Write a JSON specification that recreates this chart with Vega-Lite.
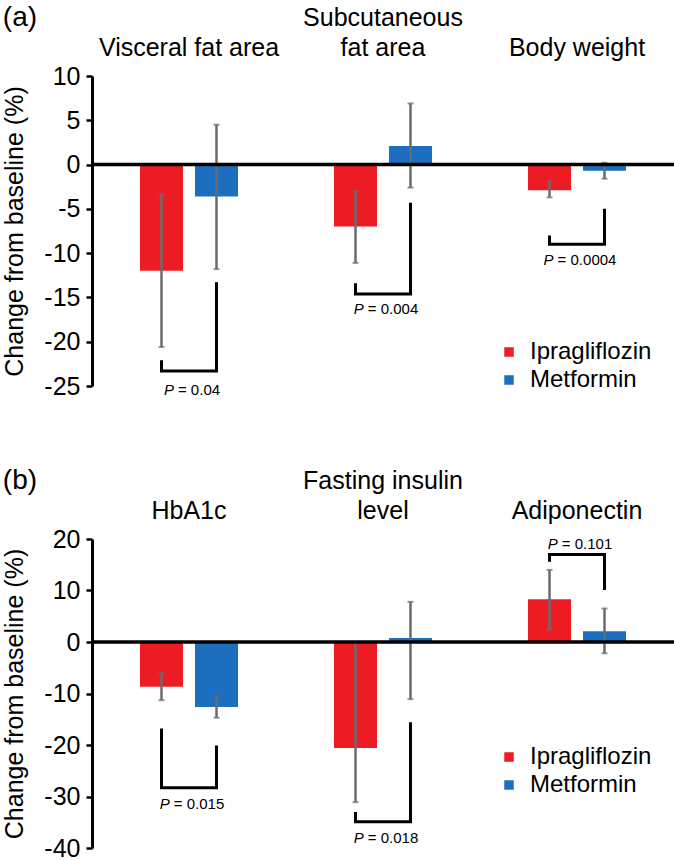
{
  "$schema": "https://vega.github.io/schema/vega-lite/v6.json",
  "padding": {"left": 2, "top": 4, "right": 0, "bottom": 0},
  "config": {
    "view": {"stroke": null},
    "font": "Liberation Sans",
    "axis": {"grid": false, "labelColor": "black", "titleColor": "black"}
  },
  "datasets": {
    "a_bars": [
      {"category": "Visceral fat area", "drug": "Ipragliflozin", "value": -12.0, "lo": -20.6, "hi": -3.4},
      {"category": "Visceral fat area", "drug": "Metformin", "value": -3.6, "lo": -11.8, "hi": 4.5},
      {"category": "Subcutaneous fat area", "drug": "Ipragliflozin", "value": -7.0, "lo": -11.1, "hi": -3.0},
      {"category": "Subcutaneous fat area", "drug": "Metformin", "value": 2.1, "lo": -2.6, "hi": 6.9},
      {"category": "Body weight", "drug": "Ipragliflozin", "value": -2.9, "lo": -3.7, "hi": -1.9},
      {"category": "Body weight", "drug": "Metformin", "value": -0.7, "lo": -1.6, "hi": 0.2}
    ],
    "a_br": [
      {"category": "Visceral fat area", "drug": "Ipragliflozin", "y": -22.1, "k": 1},
      {"category": "Visceral fat area", "drug": "Ipragliflozin", "y": -23.3, "k": 2},
      {"category": "Visceral fat area", "drug": "Metformin", "y": -23.3, "k": 3},
      {"category": "Visceral fat area", "drug": "Metformin", "y": -13.3, "k": 4},
      {"category": "Subcutaneous fat area", "drug": "Ipragliflozin", "y": -13.4, "k": 1},
      {"category": "Subcutaneous fat area", "drug": "Ipragliflozin", "y": -14.6, "k": 2},
      {"category": "Subcutaneous fat area", "drug": "Metformin", "y": -14.6, "k": 3},
      {"category": "Subcutaneous fat area", "drug": "Metformin", "y": -4.3, "k": 4},
      {"category": "Body weight", "drug": "Ipragliflozin", "y": -8.0, "k": 1},
      {"category": "Body weight", "drug": "Ipragliflozin", "y": -9.0, "k": 2},
      {"category": "Body weight", "drug": "Metformin", "y": -9.0, "k": 3},
      {"category": "Body weight", "drug": "Metformin", "y": -5.0, "k": 4}
    ],
    "a_p": [
      {"category": "Visceral fat area", "num": "= 0.04", "y": -25.5},
      {"category": "Subcutaneous fat area", "num": "= 0.004", "y": -16.3},
      {"category": "Body weight", "num": "= 0.0004", "y": -10.8}
    ],
    "b_bars": [
      {"category": "HbA1c", "drug": "Ipragliflozin", "value": -8.7, "lo": -11.3, "hi": -6.0},
      {"category": "HbA1c", "drug": "Metformin", "value": -12.6, "lo": -14.7, "hi": -10.5},
      {"category": "Fasting insulin level", "drug": "Ipragliflozin", "value": -20.6, "lo": -31.1, "hi": 0},
      {"category": "Fasting insulin level", "drug": "Metformin", "value": 0.8, "lo": -11.1, "hi": 7.8},
      {"category": "Adiponectin", "drug": "Ipragliflozin", "value": 8.3, "lo": 2.4, "hi": 14.0},
      {"category": "Adiponectin", "drug": "Metformin", "value": 2.1, "lo": -2.2, "hi": 6.5}
    ],
    "b_br": [
      {"category": "HbA1c", "drug": "Ipragliflozin", "y": -16.8, "k": 1},
      {"category": "HbA1c", "drug": "Ipragliflozin", "y": -28.3, "k": 2},
      {"category": "HbA1c", "drug": "Metformin", "y": -28.3, "k": 3},
      {"category": "HbA1c", "drug": "Metformin", "y": -20.1, "k": 4},
      {"category": "Fasting insulin level", "drug": "Ipragliflozin", "y": -33.0, "k": 1},
      {"category": "Fasting insulin level", "drug": "Ipragliflozin", "y": -34.9, "k": 2},
      {"category": "Fasting insulin level", "drug": "Metformin", "y": -34.9, "k": 3},
      {"category": "Fasting insulin level", "drug": "Metformin", "y": -15.6, "k": 4},
      {"category": "Adiponectin", "drug": "Ipragliflozin", "y": 15.6, "k": 1},
      {"category": "Adiponectin", "drug": "Ipragliflozin", "y": 17.0, "k": 2},
      {"category": "Adiponectin", "drug": "Metformin", "y": 17.0, "k": 3},
      {"category": "Adiponectin", "drug": "Metformin", "y": 10.1, "k": 4}
    ],
    "b_p": [
      {"category": "HbA1c", "num": "= 0.015", "y": -31.5},
      {"category": "Fasting insulin level", "num": "= 0.018", "y": -38.1},
      {"category": "Adiponectin", "num": "= 0.101", "y": 19.0}
    ]
  },
  "spacing": 68,
  "resolve": {
    "scale": {"x": "independent", "y": "independent", "xOffset": "independent", "color": "independent"},
    "legend": {"color": "independent"}
  },
  "vconcat": [
    {
      "width": 582,
      "height": 310,
      "title": {"text": "(a)", "anchor": "start", "frame": "bounds", "fontSize": 28, "fontWeight": "normal", "offset": -27, "color": "black"},
      "layer": [
        {
          "data": {"name": "a_bars"},
          "mark": {"type": "bar"},
          "encoding": {
            "x": {"field": "category", "type": "nominal", "sort": ["Visceral fat area", "Subcutaneous fat area", "Body weight"],
              "scale": {"paddingInner": 0, "paddingOuter": 0},
              "axis": {"orient": "top", "title": null, "domain": false, "ticks": false, "labelAngle": 0, "labelFontSize": 25, "labelPadding": 46, "labelLineHeight": 30, "labelLimit": 0,
                "labelExpr": "datum.label == 'Subcutaneous fat area' ? ['Subcutaneous', 'fat area'] : ['', datum.label]"}},
            "xOffset": {"field": "drug", "type": "nominal", "sort": ["Ipragliflozin", "Metformin"], "scale": {"paddingInner": 0.218, "paddingOuter": 0.873}},
            "y": {"field": "value", "type": "quantitative", "title": "Change from baseline (%)",
              "scale": {"domain": [-25, 10], "nice": false, "zero": false},
              "axis": {"values": [-25, -20, -15, -10, -5, 0, 5, 10], "labelExpr": "'' + datum.value", "labelFontSize": 25, "labelPadding": 6, "labelFlush": false, "labelOverlap": false,
                "titleFontSize": 25, "titleFontWeight": "normal", "titlePadding": 16,
                "domainColor": "black", "domainWidth": 3, "tickColor": "black", "tickWidth": 2.5, "tickSize": 6}},
            "color": {"field": "drug", "type": "nominal", "scale": {"domain": ["Ipragliflozin", "Metformin"], "range": ["#ED1C24", "#1C6FBF"]},
              "legend": {"title": null, "orient": "none", "legendX": 405, "legendY": 264, "symbolType": "square", "symbolSize": 90, "labelFontSize": 24, "labelColor": "black", "rowPadding": 4, "labelOffset": 9, "padding": 0, "symbolStrokeWidth": 0}}
          }
        },
        {
          "data": {"name": "a_bars"},
          "mark": {"type": "rule", "color": "#6b6b6b", "strokeWidth": 2.5},
          "encoding": {
            "x": {"field": "category", "type": "nominal", "sort": ["Visceral fat area", "Subcutaneous fat area", "Body weight"], "title": null},
            "xOffset": {"field": "drug", "type": "nominal", "sort": ["Ipragliflozin", "Metformin"]},
            "y": {"field": "lo", "type": "quantitative", "title": "Change from baseline (%)"},
            "y2": {"field": "hi"}
          }
        },
        {
          "data": {"name": "a_bars"},
          "mark": {"type": "tick", "color": "#6b6b6b", "size": 6, "thickness": 2, "orient": "horizontal"},
          "encoding": {
            "x": {"field": "category", "type": "nominal", "sort": ["Visceral fat area", "Subcutaneous fat area", "Body weight"], "title": null},
            "xOffset": {"field": "drug", "type": "nominal", "sort": ["Ipragliflozin", "Metformin"]},
            "y": {"field": "lo", "type": "quantitative", "title": "Change from baseline (%)"}
          }
        },
        {
          "data": {"name": "a_bars"},
          "mark": {"type": "tick", "color": "#6b6b6b", "size": 6, "thickness": 2, "orient": "horizontal"},
          "encoding": {
            "x": {"field": "category", "type": "nominal", "sort": ["Visceral fat area", "Subcutaneous fat area", "Body weight"], "title": null},
            "xOffset": {"field": "drug", "type": "nominal", "sort": ["Ipragliflozin", "Metformin"]},
            "y": {"field": "hi", "type": "quantitative", "title": "Change from baseline (%)"}
          }
        },
        {
          "data": {"values": [{}]},
          "mark": {"type": "rule", "color": "black", "strokeWidth": 3.5},
          "encoding": {"y": {"datum": 0}}
        },
        {
          "data": {"name": "a_br"},
          "mark": {"type": "line", "color": "black", "strokeWidth": 3, "strokeJoin": "miter"},
          "encoding": {
            "x": {"field": "category", "type": "nominal", "sort": ["Visceral fat area", "Subcutaneous fat area", "Body weight"], "title": null},
            "xOffset": {"field": "drug", "type": "nominal", "sort": ["Ipragliflozin", "Metformin"]},
            "y": {"field": "y", "type": "quantitative", "title": "Change from baseline (%)"},
            "detail": {"field": "category"},
            "order": {"field": "k", "type": "quantitative"}
          }
        },
        {
          "data": {"name": "a_p"},
          "mark": {"type": "text", "text": "P", "fontStyle": "italic", "fontSize": 15, "align": "left", "baseline": "middle", "color": "black",
            "dx": {"expr": "3 - (31.1 + 8.34 * (length(datum.num) - 3)) / 2"}},
          "encoding": {
            "x": {"field": "category", "type": "nominal", "sort": ["Visceral fat area", "Subcutaneous fat area", "Body weight"], "title": null},
            "y": {"field": "y", "type": "quantitative", "title": "Change from baseline (%)"}
          }
        },
        {
          "data": {"name": "a_p"},
          "mark": {"type": "text", "fontSize": 15, "align": "left", "baseline": "middle", "color": "black",
            "dx": {"expr": "17 - (31.1 + 8.34 * (length(datum.num) - 3)) / 2"}},
          "encoding": {
            "x": {"field": "category", "type": "nominal", "sort": ["Visceral fat area", "Subcutaneous fat area", "Body weight"], "title": null},
            "y": {"field": "y", "type": "quantitative", "title": "Change from baseline (%)"},
            "text": {"field": "num"}
          }
        }
      ]
    },
    {
      "width": 582,
      "height": 309,
      "title": {"text": "(b)", "anchor": "start", "frame": "bounds", "fontSize": 28, "fontWeight": "normal", "offset": -27, "color": "black"},
      "layer": [
        {
          "data": {"name": "b_bars"},
          "mark": {"type": "bar"},
          "encoding": {
            "x": {"field": "category", "type": "nominal", "sort": ["HbA1c", "Fasting insulin level", "Adiponectin"],
              "scale": {"paddingInner": 0, "paddingOuter": 0},
              "axis": {"orient": "top", "title": null, "domain": false, "ticks": false, "labelAngle": 0, "labelFontSize": 25, "labelPadding": 46, "labelLineHeight": 30, "labelLimit": 0,
                "labelExpr": "datum.label == 'Fasting insulin level' ? ['Fasting insulin', 'level'] : ['', datum.label]"}},
            "xOffset": {"field": "drug", "type": "nominal", "sort": ["Ipragliflozin", "Metformin"], "scale": {"paddingInner": 0.218, "paddingOuter": 0.873}},
            "y": {"field": "value", "type": "quantitative", "title": "Change from baseline (%)",
              "scale": {"domain": [-40, 20], "nice": false, "zero": false},
              "axis": {"values": [-40, -30, -20, -10, 0, 10, 20], "labelExpr": "'' + datum.value", "labelFontSize": 25, "labelPadding": 6, "labelFlush": false, "labelOverlap": false,
                "titleFontSize": 25, "titleFontWeight": "normal", "titlePadding": 16,
                "domainColor": "black", "domainWidth": 3, "tickColor": "black", "tickWidth": 2.5, "tickSize": 6}},
            "color": {"field": "drug", "type": "nominal", "scale": {"domain": ["Ipragliflozin", "Metformin"], "range": ["#ED1C24", "#1C6FBF"]},
              "legend": {"title": null, "orient": "none", "legendX": 405, "legendY": 206, "symbolType": "square", "symbolSize": 90, "labelFontSize": 24, "labelColor": "black", "rowPadding": 4, "labelOffset": 9, "padding": 0, "symbolStrokeWidth": 0}}
          }
        },
        {
          "data": {"name": "b_bars"},
          "mark": {"type": "rule", "color": "#6b6b6b", "strokeWidth": 2.5},
          "encoding": {
            "x": {"field": "category", "type": "nominal", "sort": ["HbA1c", "Fasting insulin level", "Adiponectin"], "title": null},
            "xOffset": {"field": "drug", "type": "nominal", "sort": ["Ipragliflozin", "Metformin"]},
            "y": {"field": "lo", "type": "quantitative", "title": "Change from baseline (%)"},
            "y2": {"field": "hi"}
          }
        },
        {
          "data": {"name": "b_bars"},
          "mark": {"type": "tick", "color": "#6b6b6b", "size": 6, "thickness": 2, "orient": "horizontal"},
          "encoding": {
            "x": {"field": "category", "type": "nominal", "sort": ["HbA1c", "Fasting insulin level", "Adiponectin"], "title": null},
            "xOffset": {"field": "drug", "type": "nominal", "sort": ["Ipragliflozin", "Metformin"]},
            "y": {"field": "lo", "type": "quantitative", "title": "Change from baseline (%)"}
          }
        },
        {
          "data": {"name": "b_bars"},
          "mark": {"type": "tick", "color": "#6b6b6b", "size": 6, "thickness": 2, "orient": "horizontal"},
          "encoding": {
            "x": {"field": "category", "type": "nominal", "sort": ["HbA1c", "Fasting insulin level", "Adiponectin"], "title": null},
            "xOffset": {"field": "drug", "type": "nominal", "sort": ["Ipragliflozin", "Metformin"]},
            "y": {"field": "hi", "type": "quantitative", "title": "Change from baseline (%)"}
          }
        },
        {
          "data": {"values": [{}]},
          "mark": {"type": "rule", "color": "black", "strokeWidth": 3.5},
          "encoding": {"y": {"datum": 0}}
        },
        {
          "data": {"name": "b_br"},
          "mark": {"type": "line", "color": "black", "strokeWidth": 3, "strokeJoin": "miter"},
          "encoding": {
            "x": {"field": "category", "type": "nominal", "sort": ["HbA1c", "Fasting insulin level", "Adiponectin"], "title": null},
            "xOffset": {"field": "drug", "type": "nominal", "sort": ["Ipragliflozin", "Metformin"]},
            "y": {"field": "y", "type": "quantitative", "title": "Change from baseline (%)"},
            "detail": {"field": "category"},
            "order": {"field": "k", "type": "quantitative"}
          }
        },
        {
          "data": {"name": "b_p"},
          "mark": {"type": "text", "text": "P", "fontStyle": "italic", "fontSize": 15, "align": "left", "baseline": "middle", "color": "black",
            "dx": {"expr": "3 - (31.1 + 8.34 * (length(datum.num) - 3)) / 2"}},
          "encoding": {
            "x": {"field": "category", "type": "nominal", "sort": ["HbA1c", "Fasting insulin level", "Adiponectin"], "title": null},
            "y": {"field": "y", "type": "quantitative", "title": "Change from baseline (%)"}
          }
        },
        {
          "data": {"name": "b_p"},
          "mark": {"type": "text", "fontSize": 15, "align": "left", "baseline": "middle", "color": "black",
            "dx": {"expr": "17 - (31.1 + 8.34 * (length(datum.num) - 3)) / 2"}},
          "encoding": {
            "x": {"field": "category", "type": "nominal", "sort": ["HbA1c", "Fasting insulin level", "Adiponectin"], "title": null},
            "y": {"field": "y", "type": "quantitative", "title": "Change from baseline (%)"},
            "text": {"field": "num"}
          }
        }
      ]
    }
  ]
}
